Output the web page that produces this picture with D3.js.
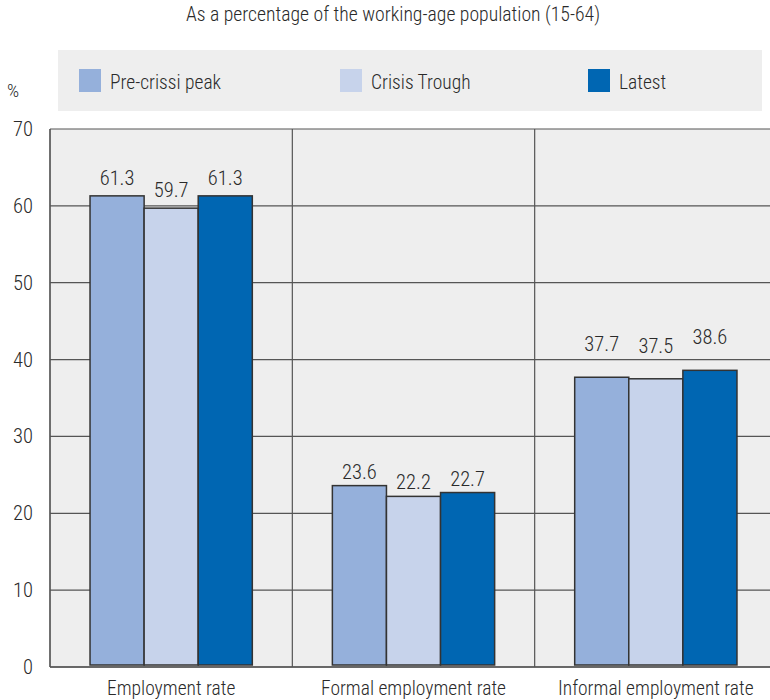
<!DOCTYPE html>
<html><head><meta charset="utf-8">
<script src="https://cdn.jsdelivr.net/npm/d3@7/dist/d3.min.js"></script>
<style>
body{margin:0;background:#fff;}
text{font-family:"Roboto Condensed","Liberation Sans Narrow","Arial Narrow","Liberation Sans",sans-serif;font-weight:300;fill:#2a2a2a;}
</style></head>
<body><svg id="c" width="770" height="700"></svg>
<script>
const categories = ["Employment rate","Formal employment rate","Informal employment rate"];
const seriesNames = ["Pre-crissi peak","Crisis Trough","Latest"];
const preCrisisPeak = [61.3, 23.6, 37.7];
const crisisTrough = [59.7, 22.2, 37.5];
const latest = [61.3, 22.7, 38.6];
const yTicks = [0,10,20,30,40,50,60,70];
const colors = ["#95b0db","#c7d3eb","#0066b2"];
const series = [preCrisisPeak, crisisTrough, latest];
// layout: gap (px) between bar top and value-label baseline, per category
const labelGap = [11, 7, 26];

const svg = d3.select("#c");
const pLeft = 50, pRight = 777, pTop = 129, pBottom = 667;
const y = d3.scaleLinear().domain([0,70]).range([pBottom, pTop]);
const x0 = d3.scaleBand().domain(categories).range([pLeft, pRight]).paddingInner(0).paddingOuter(0);
const x1 = d3.scaleBand().domain(seriesNames).range([0, x0.bandwidth()]).paddingOuter(0.74).paddingInner(0);

// title
svg.append("text").attr("x", 393).attr("y", 21).attr("text-anchor","middle")
  .style("font-size","19.7px").text("As a percentage of the working-age population (15-64)");

// legend
svg.append("rect").attr("x",58).attr("y",50).attr("width",704).attr("height",61).attr("fill","#eeeeee");
const legX = [79, 340, 588];
seriesNames.forEach((n,i)=>{
  svg.append("rect").attr("x",legX[i]).attr("y",69).attr("width",22).attr("height",23).attr("fill",colors[i]);
  svg.append("text").attr("x",legX[i]+31).attr("y",89).style("font-size","19.5px").text(n);
});
svg.append("text").attr("x",7).attr("y",97).style("font-size","19px").text("%");

// plot background
svg.append("rect").attr("x",pLeft).attr("y",pTop).attr("width",pRight-pLeft).attr("height",pBottom-pTop).attr("fill","#eeeeee");

// gridlines
svg.append("g").selectAll("line").data(yTicks).join("line")
  .attr("x1",pLeft).attr("x2",pRight).attr("y1",d=>y(d)).attr("y2",d=>y(d))
  .attr("stroke","#555").attr("stroke-width",1.2);

// y axis labels
const yAxis = d3.axisLeft(y).tickValues(yTicks).tickSize(0).tickPadding(17);
const ga = svg.append("g").attr("transform",`translate(${pLeft},0)`).call(yAxis);
ga.select(".domain").remove();
ga.selectAll("text").style("font-size","20.5px").style("font-family",null).attr("fill","#2a2a2a");

// separators
svg.append("g").selectAll("line").data(categories).join("line")
  .attr("x1",d=>x0(d)).attr("x2",d=>x0(d)).attr("y1",pTop).attr("y2",pBottom)
  .attr("stroke","#555").attr("stroke-width",1.2);

// bars
categories.forEach((c,ci)=>{
  const g = svg.append("g").attr("transform",`translate(${x0(c)},0)`);
  seriesNames.forEach((s,si)=>{
    const v = series[si][ci];
    g.append("rect").attr("x",x1(s)).attr("y",y(v)).attr("width",x1.bandwidth()).attr("height",y(0)-y(v)-2)
      .attr("fill",colors[si]).attr("stroke","#333").attr("stroke-width",1.5);
    g.append("text").attr("x",x1(s)+x1.bandwidth()/2).attr("y",y(v)-labelGap[ci]).attr("text-anchor","middle")
      .style("font-size","20.5px").text(v.toFixed(1));
  });
});

// bottom axis line
svg.append("line").attr("x1",pLeft).attr("x2",pRight).attr("y1",pBottom).attr("y2",pBottom).attr("stroke","#555").attr("stroke-width",1.5);
svg.append("line").attr("x1",pLeft).attr("x2",pLeft).attr("y1",pTop).attr("y2",pBottom).attr("stroke","#555").attr("stroke-width",1.2);

// x labels
const xAxis = d3.axisBottom(x0).tickSize(0).tickPadding(14);
const gx = svg.append("g").attr("transform",`translate(0,${pBottom})`).call(xAxis);
gx.select(".domain").remove();
gx.selectAll("text").style("font-size","19.5px").style("font-family",null).attr("fill","#2a2a2a");
</script></body></html>
